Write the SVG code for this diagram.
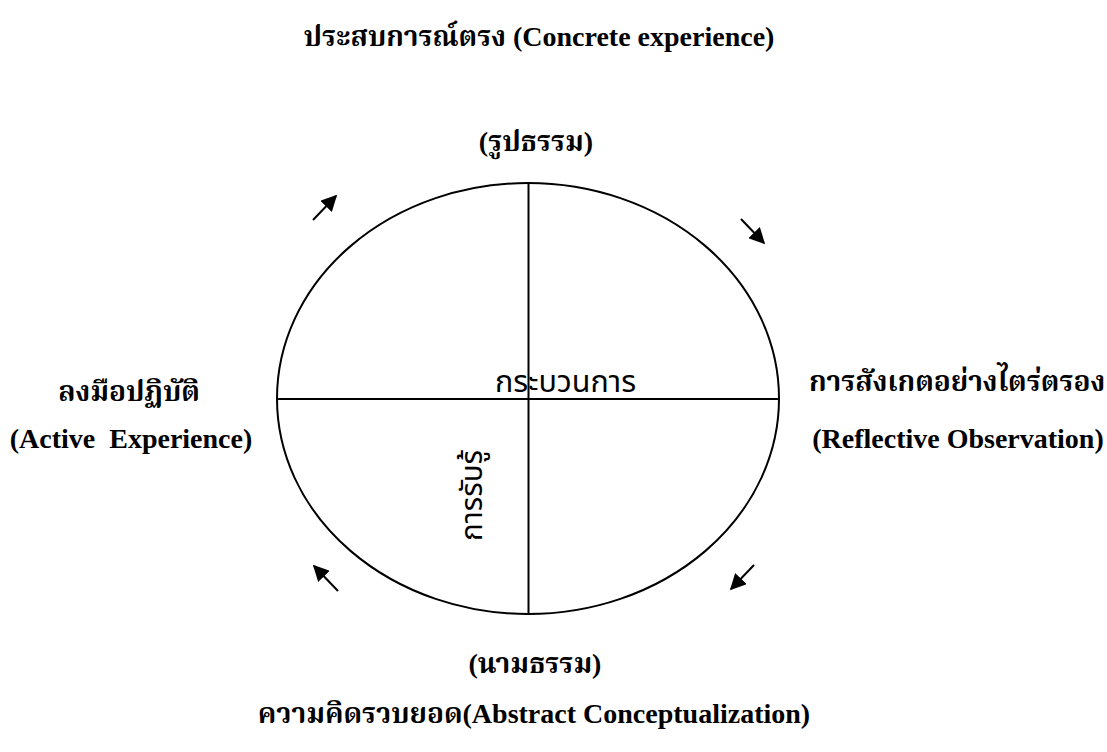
<svg xmlns="http://www.w3.org/2000/svg" width="1107" height="752" viewBox="0 0 1107 752">
<style>
.b{font-family:"Liberation Serif","Noto Serif Thai","Noto Sans Thai",serif;font-weight:bold;font-size:28px;fill:#000;text-anchor:middle}
.r{font-family:"Noto Sans Thai","Noto Sans","DejaVu Sans",sans-serif;font-size:30px;fill:#000}
.ln{stroke:#000;stroke-width:2;fill:none}
.ar{stroke:#000;stroke-width:2;fill:none;marker-end:url(#ah)}
</style>
<defs>
<marker id="ah" viewBox="0 0 10 10" refX="9" refY="5" markerWidth="8" markerHeight="8" markerUnits="strokeWidth" orient="auto">
<path d="M0,0 L10,5 L0,10 z" fill="#000"/>
</marker>
</defs>
<rect width="1107" height="752" fill="#fff"/>
<g id="cycle">
<ellipse class="ln" cx="528" cy="398.5" rx="251" ry="215.5"/>
<line class="ln" x1="277" y1="399" x2="779" y2="399"/>
<line class="ln" x1="528.5" y1="183" x2="528.5" y2="614"/>
<text class="r" x="495" y="392" textLength="141" lengthAdjust="spacingAndGlyphs">กระบวนการ</text>
<text class="r" transform="translate(482,541) rotate(-90)" x="0" y="0" textLength="91" lengthAdjust="spacingAndGlyphs">การรับรู้</text>
</g>
<g id="top">
<text class="b" x="539" y="46">ประสบการณ์ตรง (Concrete experience)</text>
<text class="b" x="536" y="151">(รูปธรรม)</text>
</g>
<g id="left">
<text class="b" x="129" y="401">ลงมือปฏิบัติ</text>
<text class="b" x="131" y="448" xml:space="preserve">(Active  Experience)</text>
</g>
<g id="right">
<text class="b" x="957" y="391">การสังเกตอย่างไตร่ตรอง</text>
<text class="b" x="958" y="448">(Reflective Observation)</text>
</g>
<g id="bottom">
<text class="b" x="535" y="673">(นามธรรม)</text>
<text class="b" x="534" y="723">ความคิดรวบยอด(Abstract Conceptualization)</text>
</g>
<g id="connectors">
<line class="ar" x1="313" y1="220" x2="336" y2="196"/>
<line class="ar" x1="741" y1="219" x2="764" y2="243"/>
<line class="ar" x1="338" y1="591" x2="314" y2="566"/>
<line class="ar" x1="754" y1="565" x2="731" y2="589"/>
</g>
</svg>
